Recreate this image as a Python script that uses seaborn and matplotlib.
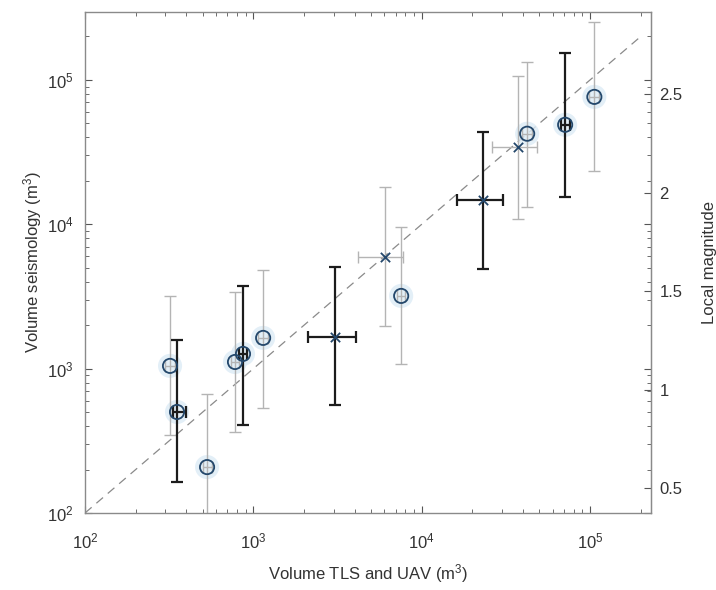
import numpy as np
import pandas as pd
import matplotlib
matplotlib.use("Agg")
import matplotlib.pyplot as plt
import matplotlib.ticker as mticker
import seaborn as sns

# circles: volume TLS/UAV vs volume seismology
circ_x = [320, 352, 531, 778, 868, 1143, 7550, 42300, 71100, 106000]
circ_y = [1045, 501, 208, 1112, 1265, 1633, 3190, 42400, 48900, 76300]
circ_xlo = [300, 335, 500, 735, 820, 1060, 7100, 39500, 67000, 99000]
circ_xhi = [342, 398, 565, 820, 920, 1230, 8000, 45300, 75500, 113000]
circ_ylo = [347, 164, 60, 364, 407, 534, 1080, 13200, 15500, 23400]
circ_yhi = [3190, 1580, 668, 3400, 3740, 4830, 9600, 133000, 154000, 253000]
circ_dark = [False, True, False, False, True, False, False, False, True, False]

# crosses
cross_x = [3050, 6070, 23200, 37400]
cross_y = [1660, 5940, 14800, 34400]
cross_xlo = [2110, 4190, 16200, 26200]
cross_xhi = [4070, 7740, 30500, 48500]
cross_ylo = [560, 1980, 4910, 10900]
cross_yhi = [5070, 18200, 43600, 107000]
cross_dark = [True, False, True, False]

ml_ticks = [0.5, 1, 1.5, 2, 2.5]

sns.set_style("ticks")
plt.rcParams['font.family'] = ['Liberation Sans', 'DejaVu Sans']
plt.rcParams['mathtext.default'] = 'regular'

circ = pd.DataFrame({'x': circ_x, 'y': circ_y, 'xlo': circ_xlo, 'xhi': circ_xhi,
                     'ylo': circ_ylo, 'yhi': circ_yhi, 'dark': circ_dark})
cross = pd.DataFrame({'x': cross_x, 'y': cross_y, 'xlo': cross_xlo, 'xhi': cross_xhi,
                      'ylo': cross_ylo, 'yhi': cross_yhi, 'dark': cross_dark})

fig = plt.figure(figsize=(7.16, 5.9), dpi=100)
ax = fig.add_axes([0.1187, 0.1305, 0.7905, 0.849])
ax.set_xscale('log')
ax.set_yscale('log')
ax.set_xlim(100, 2.3e5)
ax.set_ylim(100, 2.95e5)

# 1:1 line
ax.plot([100, 2e5], [100, 2e5], color='#8a8a8a', lw=0.9, dashes=(7, 5), zorder=1)


def draw_bars(df):
    for _, r in df.iterrows():
        col = '#1c1c1c' if r['dark'] else '#b4b4b4'
        lw = 1.6 if r['dark'] else 1.0
        ax.errorbar(r['x'], r['y'],
                    xerr=[[r['x'] - r['xlo']], [r['xhi'] - r['x']]],
                    yerr=[[r['y'] - r['ylo']], [r['yhi'] - r['y']]],
                    fmt='none', ecolor=col, elinewidth=lw, capsize=4,
                    capthick=lw, zorder=2)


draw_bars(circ)
draw_bars(cross)

# soft halo round circles
sns.scatterplot(data=circ, x='x', y='y', ax=ax, s=300, color='#dcebf6',
                edgecolor='none', alpha=0.8, zorder=1.5, legend=False)
sns.scatterplot(data=circ, x='x', y='y', ax=ax, s=105, marker='o',
                facecolor='none', edgecolor='#23476b', linewidth=1.3,
                zorder=4, legend=False)
sns.scatterplot(data=cross, x='x', y='y', ax=ax, s=45, marker='x',
                color='#23476b', linewidth=1.3, zorder=4, legend=False)

ax.xaxis.set_major_locator(mticker.LogLocator(base=10, numticks=10))
ax.yaxis.set_major_locator(mticker.LogLocator(base=10, numticks=10))
ax.xaxis.set_minor_locator(mticker.LogLocator(base=10, subs=np.arange(2, 10), numticks=10))
ax.yaxis.set_minor_locator(mticker.LogLocator(base=10, subs=np.arange(2, 10), numticks=10))
ax.xaxis.set_minor_formatter(mticker.NullFormatter())
ax.yaxis.set_minor_formatter(mticker.NullFormatter())

ax.tick_params(which='both', direction='in', top=True, right=True,
               colors='#555555', labelcolor='#333333', labelsize=12)
ax.tick_params(which='major', length=5, width=0.8)
ax.tick_params(which='minor', length=3, width=0.6)
ax.tick_params(axis='x', which='major', pad=13)
ax.tick_params(axis='y', which='major', pad=8)
for s in ax.spines.values():
    s.set_color('#8a8a8a')
    s.set_linewidth(1.0)

ax.set_xlabel('Volume TLS and UAV (m$^3$)', fontsize=12, color='#333333', labelpad=8)
ax.set_ylabel('Volume seismology (m$^3$)', fontsize=12, color='#333333', labelpad=2)


# local magnitude axis, linear in log volume
def v_to_ml(v):
    return 2 + (np.log10(np.clip(v, 1e-10, None)) - 4.218) / 1.363


def ml_to_v(m):
    return 10 ** (4.218 + 1.363 * (np.asarray(m) - 2))


ax2 = ax.secondary_yaxis('right', functions=(v_to_ml, ml_to_v))
ax2.set_yticks(ml_ticks, labels=['0.5', '1', '1.5', '2', '2.5'])
ax2.yaxis.set_minor_locator(mticker.NullLocator())
ax2.tick_params(which='both', direction='in', length=5, width=0.8, pad=6,
                colors='#555555', labelcolor='#333333', labelsize=12)
ax2.spines['right'].set_color('#8a8a8a')
ax2.set_ylabel('Local magnitude', fontsize=12, color='#333333', labelpad=14)

fig.savefig('out.png', dpi=100)
